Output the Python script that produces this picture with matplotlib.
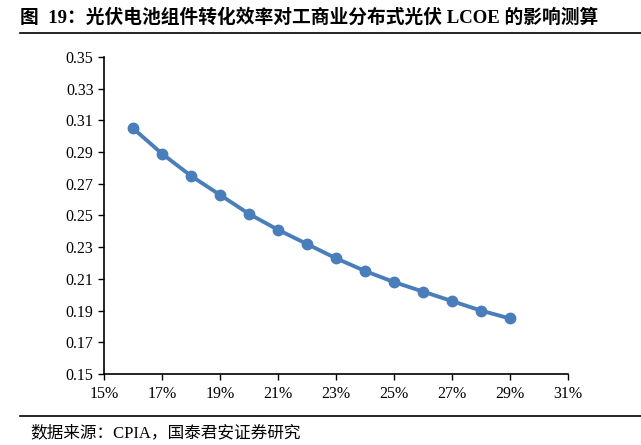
import matplotlib.pyplot as plt
from matplotlib.lines import Line2D
from matplotlib.ticker import FuncFormatter

plt.rcParams['font.family'] = ['Liberation Serif', 'Noto Sans CJK SC']

# module efficiency (%) and LCOE
efficiency = [16, 17, 18, 19, 20, 21, 22, 23, 24, 25, 26, 27, 28, 29]
lcoe = [0.305, 0.289, 0.275, 0.263, 0.251, 0.241, 0.232, 0.223, 0.215,
        0.208, 0.202, 0.196, 0.190, 0.185]
x_ticks = [15, 17, 19, 21, 23, 25, 27, 29, 31]
y_ticks = [0.15, 0.17, 0.19, 0.21, 0.23, 0.25, 0.27, 0.29, 0.31, 0.33, 0.35]

title = "图  19：光伏电池组件转化效率对工商业分布式光伏 LCOE 的影响测算"
source = "数据来源：CPIA，国泰君安证券研究"

fig = plt.figure(figsize=(6.41, 4.45), dpi=100)
ax = fig.add_axes([0.1622, 0.1596, 0.7238, 0.7124])

ax.plot(efficiency, lcoe, color='#4a7ebb', lw=2.8, marker='o', ms=7.5)

ax.set_xlim(15, 31)
ax.set_ylim(0.15, 0.35)
ax.set_xticks(x_ticks)
ax.set_yticks(y_ticks)
ax.xaxis.set_major_formatter(FuncFormatter(lambda v, p: f"{v:.0f}%"))
ax.yaxis.set_major_formatter(FuncFormatter(lambda v, p: f"{v:.2f}"))
ax.tick_params(direction='out', length=4, width=1, labelsize=11.5, color='black')
ax.tick_params(axis='x', pad=5)
ax.spines['top'].set_visible(False)
ax.spines['right'].set_visible(False)
ax.spines['left'].set_linewidth(1.2)
ax.spines['bottom'].set_linewidth(1.2)

fig.text(20 / 641, 1 - 17 / 445, title, fontsize=13.5, fontweight='bold', va='center', ha='left')
fig.add_artist(Line2D([20 / 641, 1.0], [1 - 33 / 445] * 2, color='black', lw=1.2))
fig.add_artist(Line2D([20 / 641, 1.0], [1 - 416 / 445] * 2, color='black', lw=1.2))
fig.text(30 / 641, 1 - 433 / 445, source, fontsize=12, va='center', ha='left')

fig.savefig("out.png", dpi=100)
